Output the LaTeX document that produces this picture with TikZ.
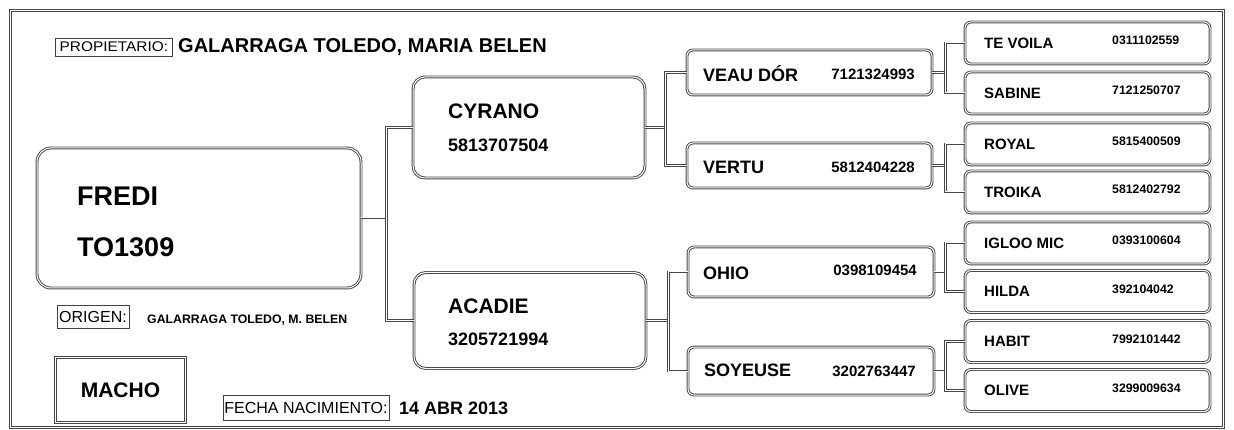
\documentclass[tikz,border=0pt]{standalone}
\usepackage{fontspec}
\setmainfont{Liberation Sans}
\usepackage{graphicx}
\newcommand\myfs[1]{\fontsize{#1}{#1}\selectfont}
\tikzset{
  dbl/.style={draw=black!72, line width=0.95pt, double=white, double distance=1pt},
  pbox/.style={dbl, rectangle, rounded corners=#1, inner sep=0pt},
  pbox/.default=6pt,
  conn/.style={dbl},
  lbl/.style={draw=black!75, line width=0.8pt, inner sep=0pt, rectangle},
  nm/.style={anchor=base west, inner sep=0pt, font=\bfseries},
  nr/.style={anchor=base east, inner sep=0pt, font=\bfseries},
}
\begin{document}
\begin{tikzpicture}[x=1pt,y=-1pt]
\useasboundingbox (0,0) rectangle (1234,430);
% frame
\draw[dbl] (10.5,10.5) rectangle (1223.5,427.5);

% header
\node[lbl, minimum width=117, minimum height=18, anchor=west] (prop) at (55,47) {\myfs{14}\scalebox{1.1}[1]{PROPIETARIO:}};
\node[nm] (owner) at (178,52.7) {\myfs{20}GALARRAGA TOLEDO, MARIA BELEN};

% main animal
\node[pbox=14pt, minimum width=324, minimum height=140] (fredi) at (199,218) {};
\node[nm] (frediname) at (77,206) {\myfs{27}FREDI};
\node[nm] (frediid) at (77,257) {\myfs{27}TO1309};

% origen
\node[lbl, minimum width=72, minimum height=23] (orig) at (93,316.5) {\myfs{16}ORIGEN:};
\node[nm] (origname) at (147,323.4) {\myfs{12.3}GALARRAGA TOLEDO, M. BELEN};

% sexo
\node[dbl, rectangle, minimum width=130, minimum height=65, inner sep=0pt] (sexo) at (120.5,390) {\myfs{21}\bfseries MACHO};

% fecha
\node[lbl, minimum width=166, minimum height=25] (fecha) at (306,407.5) {\myfs{16}FECHA NACIMIENTO:};
\node[nm] (fechaval) at (399,414.4) {\myfs{18}14 ABR 2013};

% parents
\node[pbox=12pt, minimum width=232, minimum height=101] (cyrano) at (529,127.5) {};
\node[nm] at (448,118.5) {\myfs{21}CYRANO};
\node[nm] at (448,151.4) {\myfs{18}5813707504};
\node[pbox=12pt, minimum width=232, minimum height=96] (acadie) at (530,320.5) {};
\node[nm] at (448,313.5) {\myfs{21}ACADIE};
\node[nm] at (448,345.4) {\myfs{18}3205721994};

% grandparents
\node[pbox, minimum width=245, minimum height=45] (veau) at (809.5,72.5) {};
\node[nm] at (703,81.4) {\myfs{18}VEAU DÓR};
\node[nr] at (915,79.4) {\myfs{15}7121324993};
\node[pbox, minimum width=245, minimum height=45] (vertu) at (809.5,165.5) {};
\node[nm] at (703,173.4) {\myfs{18}VERTU};
\node[nr] at (915,173) {\myfs{15}5812404228};
\node[pbox, minimum width=246, minimum height=50] (ohio) at (811,272) {};
\node[nm] at (703,279.4) {\myfs{18}OHIO};
\node[nr] at (917,275.4) {\myfs{15}0398109454};
\node[pbox, minimum width=246, minimum height=48] (soy) at (811,371) {};
\node[nm] at (704,376.4) {\myfs{18}SOYEUSE};
\node[nr] at (916,376) {\myfs{15}3202763447};

% great-grandparents
\foreach \nid/\cy/\nam/\num in {tevoila/43/TE VOILA/0311102559, sabine/93/SABINE/7121250707,
  royal/144/ROYAL/5815400509, troika/192/TROIKA/5812402792,
  igloo/243/IGLOO MIC/0393100604, hilda/291.5/HILDA/392104042,
  habit/341.5/HABIT/7992101442, olive/390.5/OLIVE/3299009634}{
  \node[pbox, minimum width=245, minimum height=42] (\nid) at (1087.5,\cy) {};
  \node[nm] at (984,\cy+5.4) {\myfs{15}\nam};
  \node[nm] at (1112,\cy+1.6) {\myfs{12.3}\num};
}

% connectors
\coordinate (j0) at (386.5,0);
\coordinate (j1) at (665.5,0);
\coordinate (j2) at (668.5,0);
\coordinate (j3) at (945.5,0);
\draw[conn] (fredi.east) -- (fredi.east -| j0);
\draw[conn] (cyrano.west) -- (cyrano.west -| j0) |- (acadie.west);
\draw[conn] (cyrano.east) -- (cyrano.east -| j1);
\draw[conn] (veau.west) -- (veau.west -| j1) |- (vertu.west);
\draw[conn] (acadie.east) -- (acadie.east -| j2);
\draw[conn] (ohio.west) -- (ohio.west -| j2) |- (soy.west);
\draw[conn] (veau.east) -- (veau.east -| j3);
\draw[conn] (tevoila.west) -- (tevoila.west -| j3) |- (sabine.west);
\draw[conn] (vertu.east) -- (vertu.east -| j3);
\draw[conn] (royal.west) -- (royal.west -| j3) |- (troika.west);
\draw[conn] (ohio.east) -- (ohio.east -| j3);
\draw[conn] (igloo.west) -- (igloo.west -| j3) |- (hilda.west);
\draw[conn] (soy.east) -- (soy.east -| j3);
\draw[conn] (habit.west) -- (habit.west -| j3) |- (olive.west);
\end{tikzpicture}
\end{document}
